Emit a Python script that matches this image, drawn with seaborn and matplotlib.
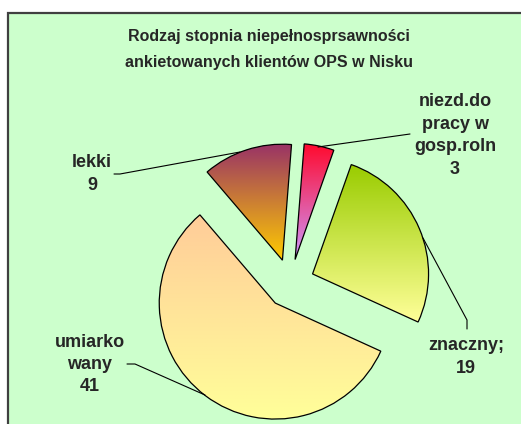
import numpy as np
import matplotlib
matplotlib.use("Agg")
import matplotlib.pyplot as plt
from matplotlib.colors import LinearSegmentedColormap
from matplotlib.patches import Rectangle
import seaborn as sns

# dane z wykresu
kategorie = ["niezd.do\npracy w\ngosp.roln", "znaczny;", "umiarko\nwany", "lekki"]
wartosci = [3, 19, 41, 9]
tytul = ["Rodzaj stopnia niepełnosprsawności", "ankietowanych klientów OPS w Nisku"]
# gradienty (góra -> dół)
kolory_gora = ["#FF0A2E", "#99CC00", "#FFCC99", "#993366"]
kolory_dol = ["#CC99FF", "#FFFF99", "#FFFF99", "#FFCC00"]

sns.set_theme(style="white")
plt.rcParams["font.family"] = ["Liberation Sans", "DejaVu Sans"]

W, H = 521, 424
fig = plt.figure(figsize=(W / 100, H / 100), dpi=100)
fig.patch.set_facecolor("white")
ax = fig.add_axes([0, 0, 1, 1])

# tło wykresu z ramką (ucięte z prawej i na dole)
ax.add_patch(Rectangle((8, -20), 600, H - 13 + 20, facecolor="#CCFFCC",
                       edgecolor="#404040", linewidth=1.6, zorder=0))

# kołowy, wszystkie wycinki odsunięte (explode w pikselach)
srodek = (290, H - 283.5)
promien = 116
wedges, _ = ax.pie(wartosci, startangle=85.5, counterclock=False,
                   explode=[24.5] * len(wartosci), center=srodek, radius=promien,
                   frame=True,
                   wedgeprops=dict(facecolor="none", edgecolor="black", linewidth=0.9))

grad = np.linspace(0, 1, 256).reshape(-1, 1)
for w, c1, c2 in zip(wedges, kolory_gora, kolory_dol):
    w.set_zorder(3)
    ext = w.get_path().get_extents()
    cmap = LinearSegmentedColormap.from_list("g", [c1, c2])
    im = ax.imshow(grad, cmap=cmap, aspect="auto", origin="upper",
                   extent=[ext.x0, ext.x1, ext.y0, ext.y1], zorder=2)
    im.set_clip_path(w)

# linie odniesienia
linie = [
    [(410, 134), (318, 147)],
    [(423, 238), (467, 320), (467, 329)],
    [(127, 364), (135, 364), (205, 395)],
    [(114, 174), (120, 174), (240, 152)],
]
for pts in linie:
    xs = [p[0] for p in pts]
    ys = [H - p[1] for p in pts]
    ax.plot(xs, ys, color="black", linewidth=0.8, zorder=4)

# etykiety
poz = [(455, 135.5), (466, 357), (90, 364.5), (92, 174)]
for kat, val, (x, y) in zip(kategorie, wartosci, poz):
    ax.text(x, H - y, f"{kat}\n{val}", ha="center", va="center",
            multialignment="center", fontsize=13, fontweight="bold",
            linespacing=1.42, zorder=5)

ax.text(269, H - 37, tytul[0], ha="center", va="center", fontsize=11.5,
        fontweight="bold", zorder=5)
ax.text(269, H - 62, tytul[1], ha="center", va="center", fontsize=11.5,
        fontweight="bold", zorder=5)

ax.set_xlim(0, W)
ax.set_ylim(0, H)
ax.set_aspect("auto")
ax.axis("off")

fig.savefig("out.png", dpi=100)
